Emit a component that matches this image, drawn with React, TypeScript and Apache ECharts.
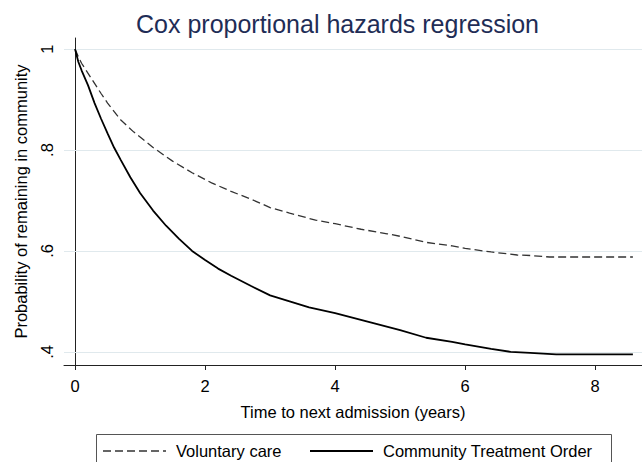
import { useEffect, useRef } from "react";
import * as echarts from "echarts";

const seriesNames = ["Voluntary care", "Community Treatment Order"];

const timeVoluntary = [0, 0.05, 0.1, 0.2, 0.3, 0.4, 0.5, 0.7, 0.9, 1.2, 1.5, 1.8, 2.1, 2.4, 2.7, 3.0, 3.3, 3.7, 4.0, 4.4, 4.8, 5.0, 5.4, 5.8, 6.0, 6.4, 6.8, 7.0, 7.3, 8.0, 8.58];
const survVoluntary = [1.0, 0.985, 0.972, 0.952, 0.932, 0.912, 0.893, 0.86, 0.836, 0.805, 0.778, 0.755, 0.735, 0.718, 0.703, 0.686, 0.675, 0.661, 0.654, 0.643, 0.634, 0.629, 0.617, 0.61, 0.605, 0.598, 0.592, 0.591, 0.588, 0.588, 0.588];

const timeCTO = [0, 0.05, 0.1, 0.2, 0.3, 0.4, 0.5, 0.6, 0.7, 0.85, 1.0, 1.2, 1.4, 1.6, 1.8, 2.0, 2.2, 2.4, 2.7, 3.0, 3.3, 3.6, 4.0, 4.5, 5.0, 5.4, 5.8, 6.0, 6.4, 6.7, 7.0, 7.4, 8.0, 8.58];
const survCTO = [1.0, 0.975, 0.958, 0.928, 0.893, 0.862, 0.833, 0.805, 0.781, 0.746, 0.715, 0.68, 0.65, 0.624, 0.6, 0.582, 0.565, 0.551, 0.531, 0.512, 0.5, 0.488, 0.477, 0.46, 0.443, 0.428, 0.42, 0.415, 0.406, 0.4, 0.398, 0.395, 0.395, 0.395];

const xTicks = [0, 2, 4, 6, 8];
const yTicks = [0.4, 0.6, 0.8, 1];

const FONT = "'Liberation Sans', Arial, sans-serif";
const FS = 16.5;

export default function App() {
  const ref = useRef<HTMLDivElement>(null);
  useEffect(() => {
    if (!ref.current) return;
    const chart = echarts.init(ref.current, null, { renderer: "svg" });
    const fmtY = (v: number) => {
      const r = Math.round(v * 10) / 10;
      return r === 1 ? "1" : String(r).replace(/^0/, "");
    };
    const legendY = 451;
    chart.setOption({
      animation: false,
      backgroundColor: "#ffffff",
      textStyle: { fontFamily: FONT },
      title: {
        text: "Cox proportional hazards regression",
        left: 131,
        top: 6,
        textStyle: { fontSize: 25, fontWeight: "normal", color: "#1f2d56", fontFamily: FONT },
      },
      grid: { left: 64, right: 0, top: 38, bottom: 97 },
      xAxis: {
        type: "value",
        min: -0.17,
        max: 8.72,
        name: "Time to next admission (years)",
        nameLocation: "middle",
        nameGap: 38,
        nameTextStyle: { fontSize: FS, color: "#000", fontFamily: FONT },
        axisLine: { show: true, lineStyle: { color: "#222", width: 1 } },
        axisTick: { show: true, customValues: xTicks, length: 5, lineStyle: { color: "#222" } },
        axisLabel: { customValues: xTicks, margin: 12, fontSize: FS, color: "#000", fontFamily: FONT },
        splitLine: { show: false },
      },
      yAxis: {
        type: "value",
        min: 0.374,
        max: 1.022,
        name: "Probability of remaining in community",
        nameLocation: "middle",
        nameGap: 35,
        nameTextStyle: { fontSize: FS, color: "#000", fontFamily: FONT },
        axisLine: { show: true, lineStyle: { color: "#222", width: 1 } },
        axisTick: { show: true, customValues: yTicks, length: 6, lineStyle: { color: "#222" } },
        axisLabel: { customValues: yTicks, rotate: 90, margin: 9, fontSize: FS, color: "#000", fontFamily: FONT, formatter: fmtY },
        splitLine: { show: false },
      },
      graphic: [
        {
          type: "rect",
          shape: { x: 96.5, y: 434.5, width: 515, height: 40 },
          style: { fill: "#fff", stroke: "#555", lineWidth: 1 },
          silent: true,
        },
        {
          type: "line",
          shape: { x1: 103, y1: legendY, x2: 166, y2: legendY },
          style: { stroke: "#333", lineWidth: 1.3, lineDash: [8, 4] },
          silent: true,
        },
        {
          type: "text",
          x: 176,
          y: legendY,
          style: { text: seriesNames[0], fontSize: FS, fill: "#000", fontFamily: FONT, verticalAlign: "middle", align: "left" },
          silent: true,
        },
        {
          type: "line",
          shape: { x1: 310, y1: legendY, x2: 373, y2: legendY },
          style: { stroke: "#000", lineWidth: 1.8 },
          silent: true,
        },
        {
          type: "text",
          x: 383,
          y: legendY,
          style: { text: seriesNames[1], fontSize: FS, fill: "#000", fontFamily: FONT, verticalAlign: "middle", align: "left" },
          silent: true,
        },
      ],
      series: [
        {
          name: seriesNames[0],
          type: "line",
          symbol: "none",
          data: timeVoluntary.map((t, i) => [t, survVoluntary[i]]),
          lineStyle: { color: "#333", width: 1.3, type: [8, 4] },
          itemStyle: { color: "#333" },
          z: 3,
          markLine: {
            silent: true,
            symbol: "none",
            label: { show: false },
            lineStyle: { color: "#e0e9ed", width: 1, type: "solid" },
            data: yTicks.map((v) => ({ yAxis: v })),
            z: 1,
          },
        },
        {
          name: seriesNames[1],
          type: "line",
          symbol: "none",
          data: timeCTO.map((t, i) => [t, survCTO[i]]),
          lineStyle: { color: "#000", width: 1.8, type: "solid" },
          itemStyle: { color: "#000" },
          z: 4,
        },
      ],
    });
    return () => chart.dispose();
  }, []);
  return (
    <div
      ref={ref}
      style={{ position: "fixed", left: 0, top: 0, width: 642, height: 462 }}
    />
  );
}
